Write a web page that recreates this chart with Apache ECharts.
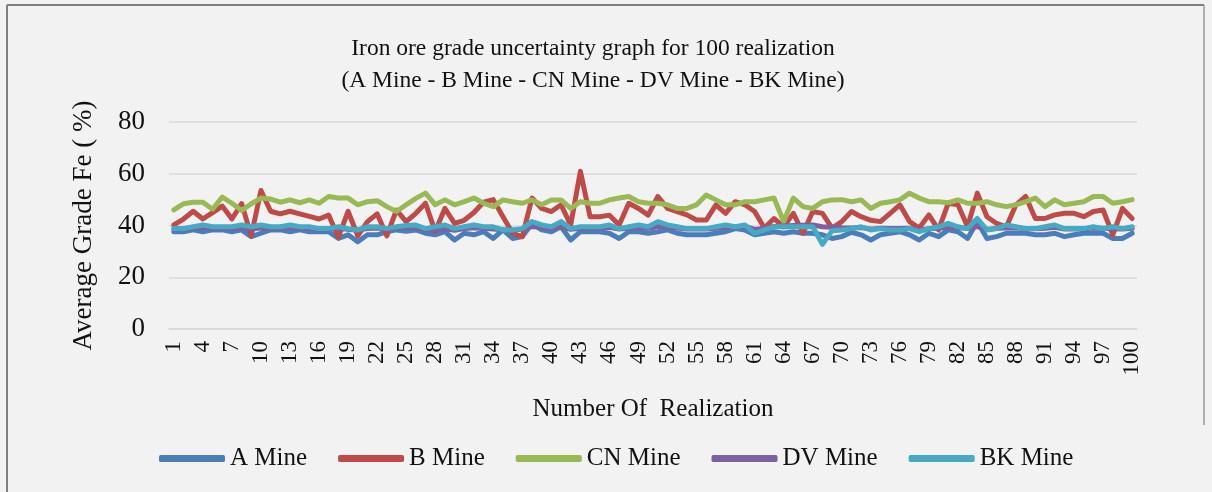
<!DOCTYPE html>
<html>
<head>
<meta charset="utf-8">
<script src="https://cdn.jsdelivr.net/npm/echarts@6/dist/echarts.min.js"></script>
<style>
  html, body { margin: 0; padding: 0; background: #f2f2f2; }
  #chart { width: 1212px; height: 492px; }
</style>
</head>
<body>
<div id="chart"></div>
<script>
const categories = Array.from({ length: 100 }, (_, i) => String(i + 1));
const seriesNames = ['A Mine', 'B Mine', 'CN Mine', 'DV Mine', 'BK Mine'];
const yTicks = { min: 0, max: 80, interval: 20 };

const aMine = [
  37.6,37.6,38.3,37.6,38.3,38.3,37.6,38.3,35.7,37.0,
  38.3,38.3,37.6,38.3,37.6,37.6,37.6,35.0,36.4,33.7,
  36.4,36.4,37.6,38.3,37.8,38.3,37.0,36.4,37.6,34.4,
  37.0,36.4,37.6,35.0,38.3,35.0,35.7,40.8,38.3,37.6,
  39.5,34.4,37.6,37.6,37.6,37.0,35.0,37.6,37.6,37.0,
  37.6,38.3,37.0,36.4,36.4,36.4,37.0,37.6,38.8,38.3,
  36.4,37.0,37.6,37.0,37.6,37.0,37.0,36.4,35.0,35.7,
  37.4,36.4,34.4,36.4,37.0,37.6,36.4,34.4,37.0,35.7,
  38.3,37.6,35.0,41.5,35.0,35.7,37.0,37.0,37.0,36.4,
  36.4,37.0,35.7,36.4,37.0,37.0,37.0,35.0,35.0,37.0
];
const bMine = [
  40.2,42.5,45.5,42.5,45.0,47.5,42.5,48.5,36.0,53.5,
  45.5,44.5,45.5,44.5,43.5,42.5,44.0,35.5,45.5,36.0,
  41.5,44.5,36.0,46.0,41.5,44.7,48.6,37.7,46.6,40.8,
  42.0,45.0,49.0,50.0,43.4,37.0,35.7,50.6,46.6,45.4,
  48.0,40.2,61.0,43.4,43.4,44.0,40.2,48.6,46.6,44.0,
  51.2,46.6,45.4,44.1,42.1,42.1,48.0,44.7,49.2,48.0,
  45.4,39.0,42.7,39.5,44.7,37.0,45.4,44.7,39.0,41.5,
  45.4,43.4,42.0,41.5,44.7,48.0,41.5,39.0,44.1,38.3,
  48.6,48.0,39.5,52.5,43.4,40.8,39.5,48.0,51.2,42.7,
  42.7,44.1,44.7,44.7,43.4,45.4,46.0,36.4,46.6,42.7
];
const cnMine = [
  46.0,48.4,49.0,49.0,46.3,51.0,48.6,45.8,48.4,50.6,
  50.2,49.0,49.9,48.8,49.9,48.6,51.2,50.6,50.6,48.0,
  49.2,49.6,47.3,45.4,48.0,50.5,52.5,48.0,49.9,48.0,
  49.2,50.6,48.6,47.3,49.9,49.2,48.6,49.9,48.0,49.9,
  49.9,46.6,49.2,48.6,48.6,49.9,50.6,51.2,49.2,48.6,
  48.6,48.0,46.6,46.6,48.0,51.8,49.9,48.0,48.0,49.2,
  49.2,49.9,50.6,41.5,50.6,47.3,46.6,49.2,49.9,50.0,
  49.2,49.9,46.6,48.6,49.2,49.9,52.5,50.6,49.2,49.2,
  48.8,49.9,48.6,48.6,49.2,48.0,47.3,48.0,49.2,50.6,
  47.3,49.9,48.0,48.6,49.2,51.2,51.2,48.6,49.2,50.0
];
const dvMine = [
  38.6,38.8,39.0,39.2,38.9,39.0,38.8,39.1,38.7,39.0,
  38.8,39.0,39.2,38.9,38.8,38.6,38.7,38.9,38.5,38.4,
  38.8,39.0,38.6,38.9,39.2,38.9,38.5,38.4,38.7,38.2,
  38.8,39.1,38.9,38.6,38.4,38.2,38.6,39.6,39.2,38.9,
  39.4,38.5,38.9,38.8,39.0,39.3,38.6,38.9,39.2,38.9,
  39.6,39.4,39.0,38.6,38.7,38.6,38.9,39.2,39.5,39.7,
  38.5,38.8,39.6,39.8,40.0,40.1,40.2,39.5,39.3,39.1,
  39.0,39.2,38.6,38.9,38.8,38.8,38.9,38.2,38.8,38.9,
  39.4,39.2,38.8,39.6,38.5,38.8,39.1,39.0,38.8,38.7,
  38.9,39.3,38.6,38.6,38.7,39.0,38.9,38.7,38.6,38.9
];
const bkMine = [
  38.8,38.8,39.5,40.2,39.5,39.5,39.5,40.2,39.5,40.2,
  39.5,39.5,40.2,39.5,39.5,38.8,38.8,39.5,38.8,38.3,
  39.5,39.5,38.8,39.5,40.0,40.2,38.8,39.5,40.2,38.8,
  39.5,40.2,39.5,39.5,38.3,38.3,38.8,41.5,40.2,39.5,
  41.5,38.8,39.5,39.5,39.5,40.2,38.8,39.5,40.2,39.5,
  41.5,40.2,39.5,38.8,38.8,38.8,39.5,40.2,39.5,40.2,
  37.0,38.3,39.5,39.5,39.5,39.5,39.5,32.7,38.0,38.3,
  38.8,39.5,38.3,38.8,38.3,38.3,38.8,37.6,38.8,39.5,
  40.8,39.5,38.8,42.7,38.3,38.8,40.2,39.5,38.8,38.8,
  39.5,40.2,38.8,38.8,38.8,39.5,38.8,39.5,38.8,39.5
];

const seriesData = [aMine, bMine, cnMine, dvMine, bkMine];
const colors = ['#4a7ebb', '#be4b48', '#98b954', '#7d60a0', '#46aac5'];
const FONT = "'Liberation Serif', 'Times New Roman', serif";

const chart = echarts.init(document.getElementById('chart'), null, { renderer: 'canvas' });
chart.setOption({
  backgroundColor: '#f2f2f2',
  animation: false,
  color: colors,
  title: {
    text: 'Iron ore grade uncertainty graph for 100 realization\n(A Mine - B Mine - CN Mine - DV Mine - BK Mine)',
    left: 588,
    top: 28,
    textAlign: 'center',
    textStyle: { fontFamily: FONT, fontSize: 23.5, fontWeight: 'normal', color: '#111', lineHeight: 32 }
  },
  graphic: [
    { type: 'line', shape: { x1: 7, y1: 5, x2: 1204, y2: 5 }, style: { stroke: '#7f7f7f', lineWidth: 2 } },
    { type: 'line', shape: { x1: 7, y1: 5, x2: 7, y2: 492 }, style: { stroke: '#7f7f7f', lineWidth: 2 } },
    { type: 'line', shape: { x1: 1204, y1: 5, x2: 1204, y2: 425 }, style: { stroke: '#9a9a9a', lineWidth: 1.5 } }
  ],
  legend: {
    data: seriesNames,
    left: 154,
    top: 441,
    icon: 'roundRect',
    itemWidth: 66,
    itemHeight: 7,
    itemGap: 31,
    textStyle: { fontFamily: FONT, fontSize: 25, color: '#111' }
  },
  grid: { left: 169, right: 75, top: 122, bottom: 163 },
  xAxis: {
    type: 'category',
    data: categories,
    boundaryGap: true,
    name: 'Number Of  Realization',
    nameLocation: 'middle',
    nameGap: 68,
    nameTextStyle: { fontFamily: FONT, fontSize: 25, color: '#111' },
    axisLine: { lineStyle: { color: '#d9d9d9', width: 1.5 } },
    axisTick: { show: false },
    axisLabel: { interval: 2, rotate: 90, margin: 12, fontFamily: FONT, fontSize: 23, color: '#111' }
  },
  yAxis: {
    type: 'value',
    min: yTicks.min,
    max: yTicks.max,
    interval: yTicks.interval,
    name: 'Average Grade Fe ( %)',
    nameLocation: 'middle',
    nameGap: 72,
    nameTextStyle: { fontFamily: FONT, fontSize: 27, color: '#111' },
    axisLine: { show: false },
    axisTick: { show: false },
    splitLine: { lineStyle: { color: '#d9d9d9', width: 1.5 } },
    axisLabel: { margin: 24, fontFamily: FONT, fontSize: 27, color: '#111' }
  },
  series: seriesNames.map((name, i) => ({
    name: name,
    type: 'line',
    data: seriesData[i],
    showSymbol: false,
    symbol: 'none',
    lineStyle: { width: 5, color: colors[i], cap: 'round', join: 'round' },
    itemStyle: { color: colors[i] }
  }))
});
</script>
</body>
</html>
